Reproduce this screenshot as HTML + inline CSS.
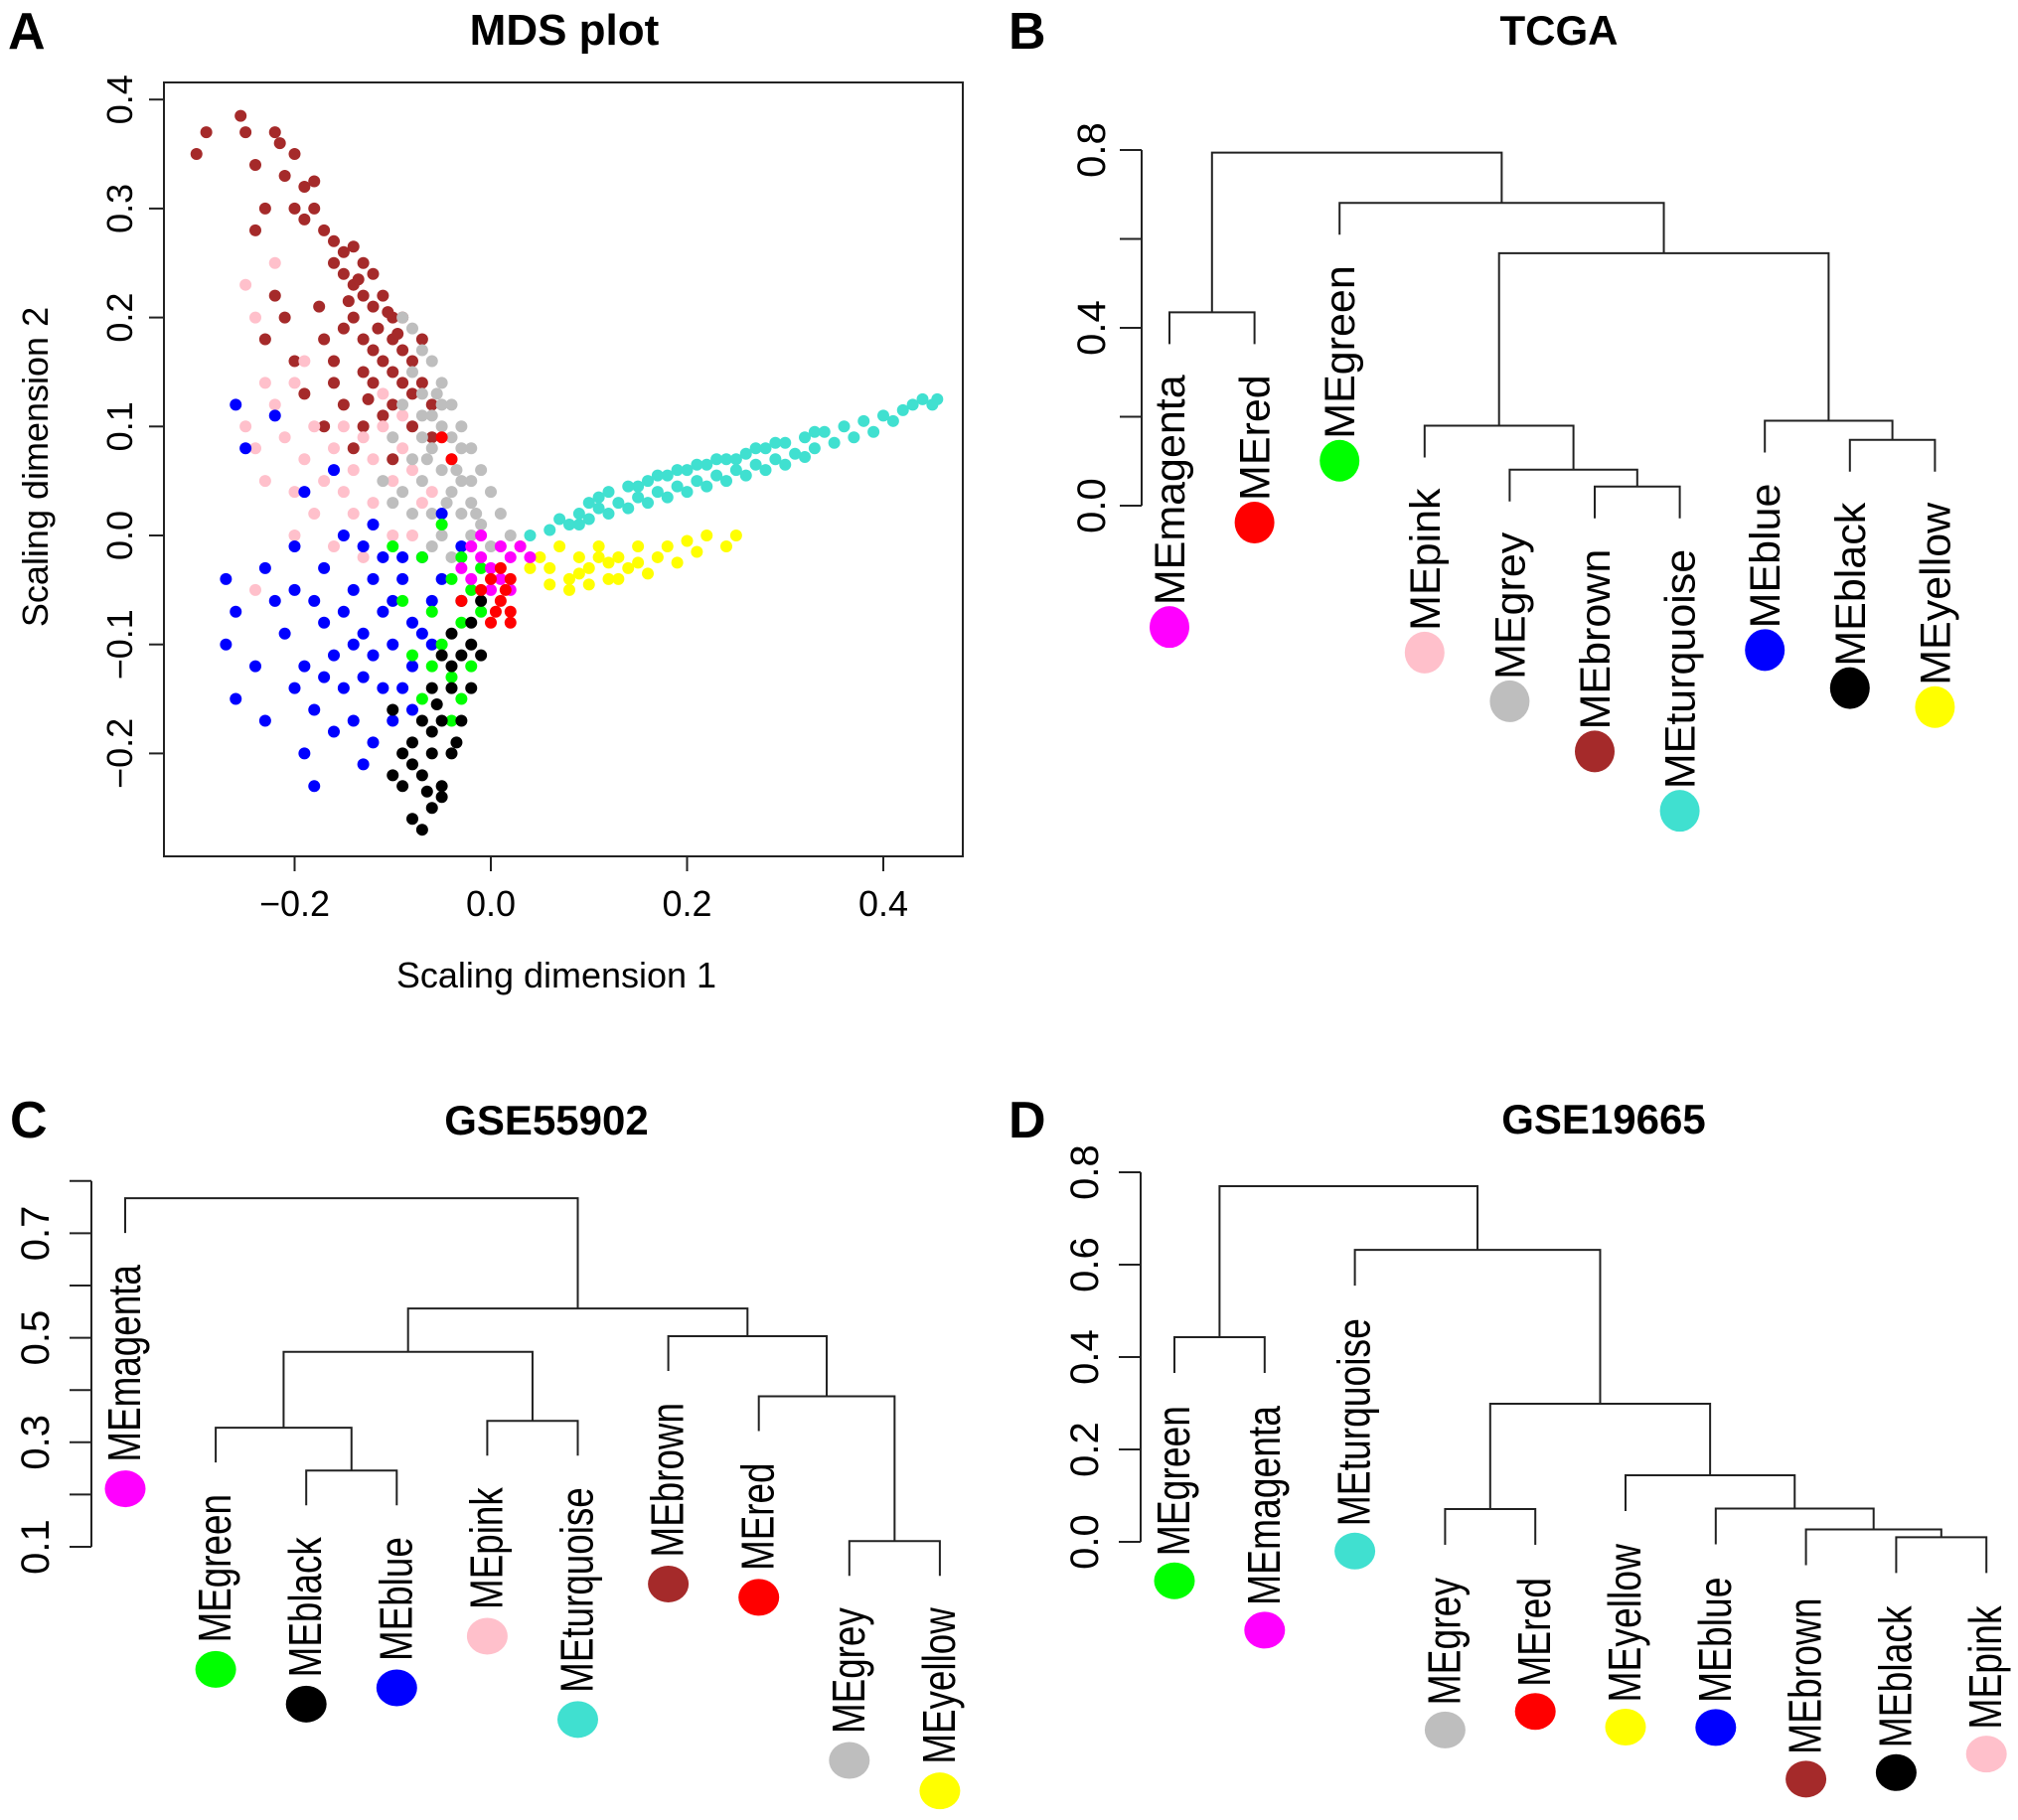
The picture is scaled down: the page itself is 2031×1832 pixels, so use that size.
<!DOCTYPE html>
<html><head><meta charset="utf-8"><style>
html,body{margin:0;padding:0;background:#fff;}
svg{display:block;font-family:"Liberation Sans",Arial,sans-serif;}
</style></head><body>
<svg id="fig" width="2031" height="1832" viewBox="0 0 2031 1832" xmlns="http://www.w3.org/2000/svg">
<rect width="2031" height="1832" fill="#fff"/>
<g id="pA"></g>
<g id="pB"></g>
<g id="pC"></g>
<g id="pD"></g>
</svg>
<script>
const NS="http://www.w3.org/2000/svg";
const COLORS={magenta:"#FF00FF",red:"#FF0000",green:"#00FF00",pink:"#FFC0CB",grey:"#BEBEBE",brown:"#A52A2A",turquoise:"#40E0D0",blue:"#0000FF",black:"#000000",yellow:"#FFFF00"};

// ---------- Panel A data ----------
const mdsXTicks=[-0.2,0.0,0.2,0.4];
const mdsYTicks=[-0.2,-0.1,0.0,0.1,0.2,0.3,0.4];
const mdsOrder=["brown","pink","grey","blue","green","black","turquoise","yellow","magenta","red"];
const brownPts=[[-0.3,0.35],[-0.29,0.37],[-0.255,0.385],[-0.25,0.37],[-0.22,0.37],[-0.215,0.36],[-0.2,0.35],[-0.24,0.34],[-0.21,0.33],[-0.19,0.32],[-0.18,0.325],[-0.2,0.3],[-0.19,0.29],[-0.23,0.3],[-0.24,0.28],[-0.18,0.3],[-0.17,0.28],[-0.16,0.27],[-0.15,0.26],[-0.14,0.265],[-0.16,0.25],[-0.13,0.25],[-0.15,0.24],[-0.14,0.23],[-0.12,0.24],[-0.13,0.22],[-0.11,0.22],[-0.12,0.21],[-0.1,0.2],[-0.14,0.2],[-0.115,0.19],[-0.1,0.18],[-0.09,0.17],[-0.12,0.17],[-0.11,0.16],[-0.08,0.16],[-0.1,0.15],[-0.09,0.14],[-0.12,0.14],[-0.13,0.15],[-0.08,0.13],[-0.07,0.14],[-0.1,0.12],[-0.11,0.11],[-0.06,0.12],[-0.08,0.1],[-0.22,0.22],[-0.23,0.18],[-0.21,0.2],[-0.175,0.21],[-0.17,0.18],[-0.2,0.16],[-0.16,0.14],[-0.19,0.13],[-0.15,0.12],[-0.17,0.1],[-0.13,0.1],[-0.14,0.08],[-0.06,0.09],[-0.1,0.07],[-0.15,0.19],[-0.13,0.18],[-0.16,0.16],[-0.125,0.125],[-0.09,0.2],[-0.07,0.18],[-0.135,0.235],[-0.105,0.205],[-0.095,0.185],[-0.145,0.215]];
const pinkPts=[[-0.25,0.23],[-0.22,0.25],[-0.24,0.2],[-0.25,0.1],[-0.24,0.08],[-0.22,0.12],[-0.2,0.14],[-0.23,0.05],[-0.21,0.09],[-0.19,0.07],[-0.18,0.1],[-0.17,0.05],[-0.16,0.08],[-0.15,0.1],[-0.14,0.06],[-0.13,0.09],[-0.12,0.07],[-0.11,0.1],[-0.1,0.05],[-0.12,0.03],[-0.14,0.02],[-0.09,0.08],[-0.08,0.06],[-0.07,0.03],[-0.1,0.0],[-0.13,-0.02],[-0.16,-0.01],[-0.2,0.0],[-0.24,-0.05],[-0.18,0.02],[-0.11,0.13],[-0.09,0.11],[-0.06,0.04],[-0.08,0.0],[-0.05,0.01],[-0.15,0.04],[-0.2,0.04],[-0.19,0.16],[-0.23,0.14]];
const greyPts=[[-0.09,0.2],[-0.08,0.19],[-0.07,0.17],[-0.08,0.15],[-0.06,0.16],[-0.07,0.13],[-0.05,0.14],[-0.06,0.11],[-0.04,0.12],[-0.05,0.1],[-0.03,0.1],[-0.06,0.08],[-0.04,0.07],[-0.02,0.08],[-0.05,0.06],[-0.03,0.05],[-0.01,0.06],[-0.04,0.04],[-0.02,0.03],[0.0,0.04],[-0.03,0.02],[-0.01,0.01],[0.01,0.02],[-0.02,0.0],[0.0,-0.01],[0.02,0.0],[-0.07,0.09],[-0.08,0.07],[-0.09,0.04],[-0.07,0.05],[-0.06,0.02],[-0.05,0.0],[-0.1,0.03],[-0.08,0.02],[-0.04,0.09],[-0.02,0.05],[-0.1,0.09],[-0.09,0.12],[-0.11,0.05],[-0.06,-0.01],[-0.04,-0.02],[-0.07,0.11],[-0.05,0.12],[-0.03,0.08],[-0.055,0.13],[-0.035,0.06],[-0.015,0.02],[-0.065,0.07],[-0.045,0.03]];
const bluePts=[[-0.26,0.12],[-0.25,0.08],[-0.27,-0.04],[-0.26,-0.07],[-0.27,-0.1],[-0.26,-0.15],[-0.23,-0.03],[-0.22,-0.06],[-0.24,-0.12],[-0.2,-0.01],[-0.2,-0.05],[-0.21,-0.09],[-0.19,-0.12],[-0.18,-0.16],[-0.19,-0.2],[-0.18,-0.23],[-0.17,-0.03],[-0.17,-0.08],[-0.16,-0.11],[-0.15,-0.14],[-0.16,-0.18],[-0.14,-0.05],[-0.13,-0.09],[-0.13,-0.13],[-0.14,-0.17],[-0.12,-0.19],[-0.11,-0.02],[-0.11,-0.07],[-0.1,-0.1],[-0.11,-0.14],[-0.1,-0.17],[-0.09,-0.04],[-0.08,-0.08],[-0.08,-0.12],[-0.07,-0.02],[-0.06,-0.06],[-0.06,-0.1],[-0.05,-0.04],[-0.15,0.0],[-0.12,0.01],[-0.22,0.11],[-0.19,0.04],[-0.16,0.06],[-0.15,-0.07],[-0.12,-0.04],[-0.09,-0.14],[-0.2,-0.14],[-0.23,-0.17],[-0.13,-0.21],[-0.08,-0.16],[-0.05,0.02],[-0.03,-0.01],[-0.17,-0.13],[-0.13,-0.01],[-0.14,-0.1],[-0.1,-0.06],[-0.07,-0.09],[-0.12,-0.11],[-0.09,-0.02],[-0.18,-0.06]];
const greenPts=[[-0.1,-0.01],[-0.07,-0.02],[-0.06,-0.07],[-0.04,-0.04],[-0.03,-0.08],[-0.05,-0.1],[-0.02,-0.05],[-0.01,-0.07],[-0.04,-0.13],[-0.03,-0.15],[-0.06,-0.12],[-0.08,-0.11],[-0.09,-0.06],[-0.02,-0.12],[-0.01,-0.03],[-0.03,-0.02],[-0.05,0.01],[-0.07,-0.15],[-0.04,-0.17]];
const blackPts=[[-0.08,-0.26],[-0.07,-0.27],[-0.06,-0.25],[-0.09,-0.23],[-0.07,-0.22],[-0.05,-0.23],[-0.06,-0.2],[-0.08,-0.19],[-0.04,-0.2],[-0.05,-0.17],[-0.07,-0.17],[-0.03,-0.17],[-0.04,-0.14],[-0.06,-0.14],[-0.02,-0.14],[-0.03,-0.11],[-0.05,-0.11],[-0.01,-0.11],[-0.02,-0.08],[-0.04,-0.09],[-0.01,-0.06],[-0.03,-0.06],[-0.09,-0.2],[-0.1,-0.16],[-0.08,-0.21],[-0.05,-0.24],[-0.06,-0.18],[-0.04,-0.12],[-0.02,-0.1],[-0.1,-0.22],[-0.055,-0.155],[-0.035,-0.19],[-0.065,-0.235]];
const turquoisePts=[[0.04,0.0],[0.06,0.005],[0.07,0.015],[0.08,0.01],[0.09,0.02],[0.1,0.015],[0.1,0.03],[0.11,0.025],[0.12,0.02],[0.12,0.04],[0.13,0.03],[0.14,0.025],[0.14,0.045],[0.15,0.035],[0.16,0.05],[0.16,0.03],[0.17,0.04],[0.18,0.055],[0.18,0.035],[0.19,0.045],[0.2,0.06],[0.2,0.04],[0.21,0.05],[0.22,0.065],[0.22,0.045],[0.23,0.055],[0.24,0.07],[0.24,0.05],[0.25,0.06],[0.26,0.075],[0.26,0.055],[0.27,0.065],[0.28,0.08],[0.28,0.06],[0.29,0.07],[0.3,0.085],[0.3,0.065],[0.31,0.075],[0.32,0.09],[0.32,0.072],[0.33,0.08],[0.34,0.095],[0.35,0.085],[0.36,0.1],[0.37,0.09],[0.38,0.105],[0.39,0.095],[0.4,0.11],[0.41,0.105],[0.42,0.115],[0.43,0.12],[0.44,0.125],[0.45,0.12],[0.455,0.125],[0.15,0.045],[0.19,0.06],[0.23,0.07],[0.27,0.08],[0.11,0.035],[0.09,0.01],[0.21,0.065],[0.25,0.07],[0.29,0.085],[0.33,0.095],[0.17,0.055]];
const yellowPts=[[0.05,-0.02],[0.06,-0.03],[0.07,-0.01],[0.08,-0.04],[0.09,-0.02],[0.1,-0.03],[0.11,-0.01],[0.12,-0.04],[0.13,-0.02],[0.14,-0.03],[0.15,-0.01],[0.16,-0.035],[0.17,-0.02],[0.18,-0.01],[0.19,-0.025],[0.2,-0.005],[0.21,-0.015],[0.22,0.0],[0.24,-0.01],[0.25,0.0],[0.08,-0.05],[0.1,-0.045],[0.13,-0.04],[0.06,-0.045],[0.04,-0.03],[0.11,-0.02],[0.15,-0.025],[0.03,-0.01],[0.09,-0.035],[0.12,-0.025]];
const magentaPts=[[-0.01,-0.02],[0.0,-0.03],[0.01,-0.04],[0.02,-0.02],[0.03,-0.01],[-0.02,-0.04],[0.0,-0.05],[0.01,-0.01],[-0.01,0.0],[0.02,-0.05],[-0.03,-0.03],[0.04,-0.02],[-0.02,-0.01]];
const redPts=[[0.0,-0.04],[0.01,-0.06],[0.02,-0.07],[0.015,-0.05],[0.0,-0.08],[0.02,-0.08],[0.01,-0.03],[-0.01,-0.05],[0.005,-0.07],[0.02,-0.04],[-0.05,0.09],[-0.04,0.07],[-0.03,-0.06]];
const mdsSeries={brown:brownPts,pink:pinkPts,grey:greyPts,blue:bluePts,green:greenPts,black:blackPts,turquoise:turquoisePts,yellow:yellowPts,magenta:magentaPts,red:redPts};

// ---------- Dendrogram data ----------
const bLeaves=["magenta","red","green","pink","grey","brown","turquoise","blue","black","yellow"];
const bMerges=[[-6,-7,0.043],[-5,1,0.081],[-4,2,0.18],[-9,-10,0.148],[-8,4,0.191],[3,5,0.568],[-3,6,0.681],[-1,-2,0.435],[8,7,0.794]];
const bTicks=[0,0.2,0.4,0.6,0.8];
const bTickLabels=["0.0","","0.4","","0.8"];

const cLeaves=["magenta","green","black","blue","pink","turquoise","brown","red","grey","yellow"];
const cMerges=[[-3,-4,0.246],[-2,1,0.328],[-5,-6,0.341],[2,3,0.473],[-9,-10,0.111],[-8,5,0.388],[-7,6,0.503],[4,7,0.556],[-1,8,0.767]];
const cTicks=[0.1,0.2,0.3,0.4,0.5,0.6,0.7,0.8];
const cTickLabels=["0.1","","0.3","","0.5","","0.7",""];

const dLeaves=["green","magenta","turquoise","grey","red","yellow","blue","brown","black","pink"];
const dMerges=[[-9,-10,0.01],[-8,1,0.027],[-7,2,0.072],[-6,3,0.144],[-4,-5,0.071],[5,4,0.299],[-3,6,0.632],[-1,-2,0.443],[8,7,0.77]];
const dTicks=[0,0.2,0.4,0.6,0.8];
const dTickLabels=["0.0","0.2","0.4","0.6","0.8"];

function mk(parent,tag,attrs){const e=document.createElementNS(NS,tag);for(const k in attrs)e.setAttribute(k,attrs[k]);parent.appendChild(e);return e;}
function txt(parent,x,y,s,size,opts){const t=mk(parent,"text",Object.assign({x:x,y:y,"font-size":size,fill:"#000"},opts||{}));t.textContent=s;return t;}

const fig=document.getElementById("fig");
[["A",8,49],["B",1015,49],["C",10,1145],["D",1015,1145]].forEach(a=>{
  const t=txt(fig,a[1],a[2],a[0],52,{"font-weight":"bold"});
  
  
});

// ---------- Panel A ----------
(function(){
  const g=document.getElementById("pA");
  const L=165,R=969,T=83,B=862;
  const sx=v=>494+v*987.5, sy=v=>539-v*1097;
  const box=mk(g,"rect",{x:L,y:T,width:R-L,height:B-T,fill:"none",stroke:"#222","stroke-width":2});
  
  
  const tt=txt(g,568,45,"MDS plot",44,{"font-weight":"bold","text-anchor":"middle"});
  
  
  mdsXTicks.forEach(v=>{
    const l=mk(g,"line",{x1:sx(v),x2:sx(v),y1:B,y2:B+15,stroke:"#222","stroke-width":2});
    
    
    const t=txt(g,sx(v),922,(v<0?"\u22120.":"0.")+Math.round(Math.abs(v)*10),36,{"text-anchor":"middle"});
    
    
  });
  mdsYTicks.forEach(v=>{
    const l=mk(g,"line",{x1:L-15,x2:L,y1:sy(v),y2:sy(v),stroke:"#222","stroke-width":2});
    
    
    const t=txt(g,133,sy(v),(v<0?"\u22120.":"0.")+Math.round(Math.abs(v)*10),36,{"text-anchor":"middle",transform:"rotate(-90 133 "+sy(v)+")"});
    
    
  });
  const xt=txt(g,560,994,"Scaling dimension 1",36,{"text-anchor":"middle"});
  
  
  const yt=txt(g,48,470,"Scaling dimension 2",36,{"text-anchor":"middle",transform:"rotate(-90 48 470)"});
  
  
  mdsOrder.forEach(c=>{
    const grp=mk(g,"g",{fill:COLORS[c]});
    
    
    mdsSeries[c].forEach(p=>{
      const d=mk(grp,"circle",{cx:sx(p[0]),cy:sy(p[1]),r:6});
      
      
    });
  });
})();

// ---------- Dendrograms ----------
function dendro(o){
  const g=document.getElementById(o.id);
  const n=o.leaves.length;
  const lx=i=>o.x0+i*o.dx;
  const sy=v=>o.y0-(v-o.v0)*o.k;
  const t=txt(g,o.titleX,o.titleY,o.title,42,{"font-weight":"bold","text-anchor":"middle"});
  
  
  const ax=mk(g,"line",{x1:o.ax,x2:o.ax,y1:sy(o.ticks[0]),y2:sy(o.ticks[o.ticks.length-1]),stroke:"#222","stroke-width":2});
  
  
  o.ticks.forEach((v,i)=>{
    const l=mk(g,"line",{x1:o.ax-22,x2:o.ax,y1:sy(v),y2:sy(v),stroke:"#222","stroke-width":2});
    
    
    if(o.tickLabels[i]){
      const tl=txt(g,o.labX,sy(v),o.tickLabels[i],40,{"text-anchor":"middle",transform:"rotate(-90 "+o.labX+" "+sy(v)+")"});
      
      
    }
  });
  const mx=[],leafParentH=new Array(n).fill(0);
  const pos=r=>r<0?lx(-r-1):mx[r-1];
  o.merges.forEach((m,i)=>{
    const xa=pos(m[0]),xb=pos(m[1]);mx.push((xa+xb)/2);
    const h=sy(m[2]);
    const ya=m[0]<0?h+o.hang:sy(o.merges[m[0]-1][2]);
    const yb=m[1]<0?h+o.hang:sy(o.merges[m[1]-1][2]);
    if(m[0]<0)leafParentH[-m[0]-1]=h;
    if(m[1]<0)leafParentH[-m[1]-1]=h;
    const p=mk(g,"path",{d:"M"+xa+" "+ya+"V"+h+"H"+xb+"V"+yb,fill:"none",stroke:"#222","stroke-width":2});
    
    
  });
  o.leaves.forEach((c,i)=>{
    const x=lx(i),top=leafParentH[i]+o.hang+o.gap;
    const bx=x+15;
    const t=txt(g,bx,top,"ME"+c,o.fs,{"text-anchor":"end",transform:"rotate(-90 "+bx+" "+top+")"});
    
    
    let len=t.getComputedTextLength();
    if(o.squeeze!==1){len=len*o.squeeze;t.setAttribute("textLength",len);t.setAttribute("lengthAdjust","spacingAndGlyphs");}
    const e=mk(g,"ellipse",{cx:x,cy:top+len+o.cgap,rx:o.rx,ry:o.ry,fill:COLORS[c]});
    
    
  });
}
dendro({id:"pB",leaves:bLeaves,merges:bMerges,ticks:bTicks,tickLabels:bTickLabels,x0:1177,dx:85.6,y0:509,v0:0,k:447.5,ax:1149,labX:1112,hang:32,gap:31,cgap:22,squeeze:1,rx:20,ry:21,fs:43,title:"TCGA",titleX:1569,titleY:45});
dendro({id:"pC",leaves:cLeaves,merges:cMerges,ticks:cTicks,tickLabels:cTickLabels,x0:126,dx:91.1,y0:1557,v0:0.1,k:526,ax:92,labX:49,hang:35,gap:32,cgap:27,squeeze:0.8,rx:20.5,ry:18.5,fs:46,title:"GSE55902",titleX:550,titleY:1142});
dendro({id:"pD",leaves:dLeaves,merges:dMerges,ticks:dTicks,tickLabels:dTickLabels,x0:1182,dx:90.8,y0:1552,v0:0,k:465,ax:1148,labX:1105,hang:36,gap:33,cgap:25,squeeze:0.81,rx:20.5,ry:18.5,fs:46,title:"GSE19665",titleX:1614,titleY:1141});
</script>
</body></html>
